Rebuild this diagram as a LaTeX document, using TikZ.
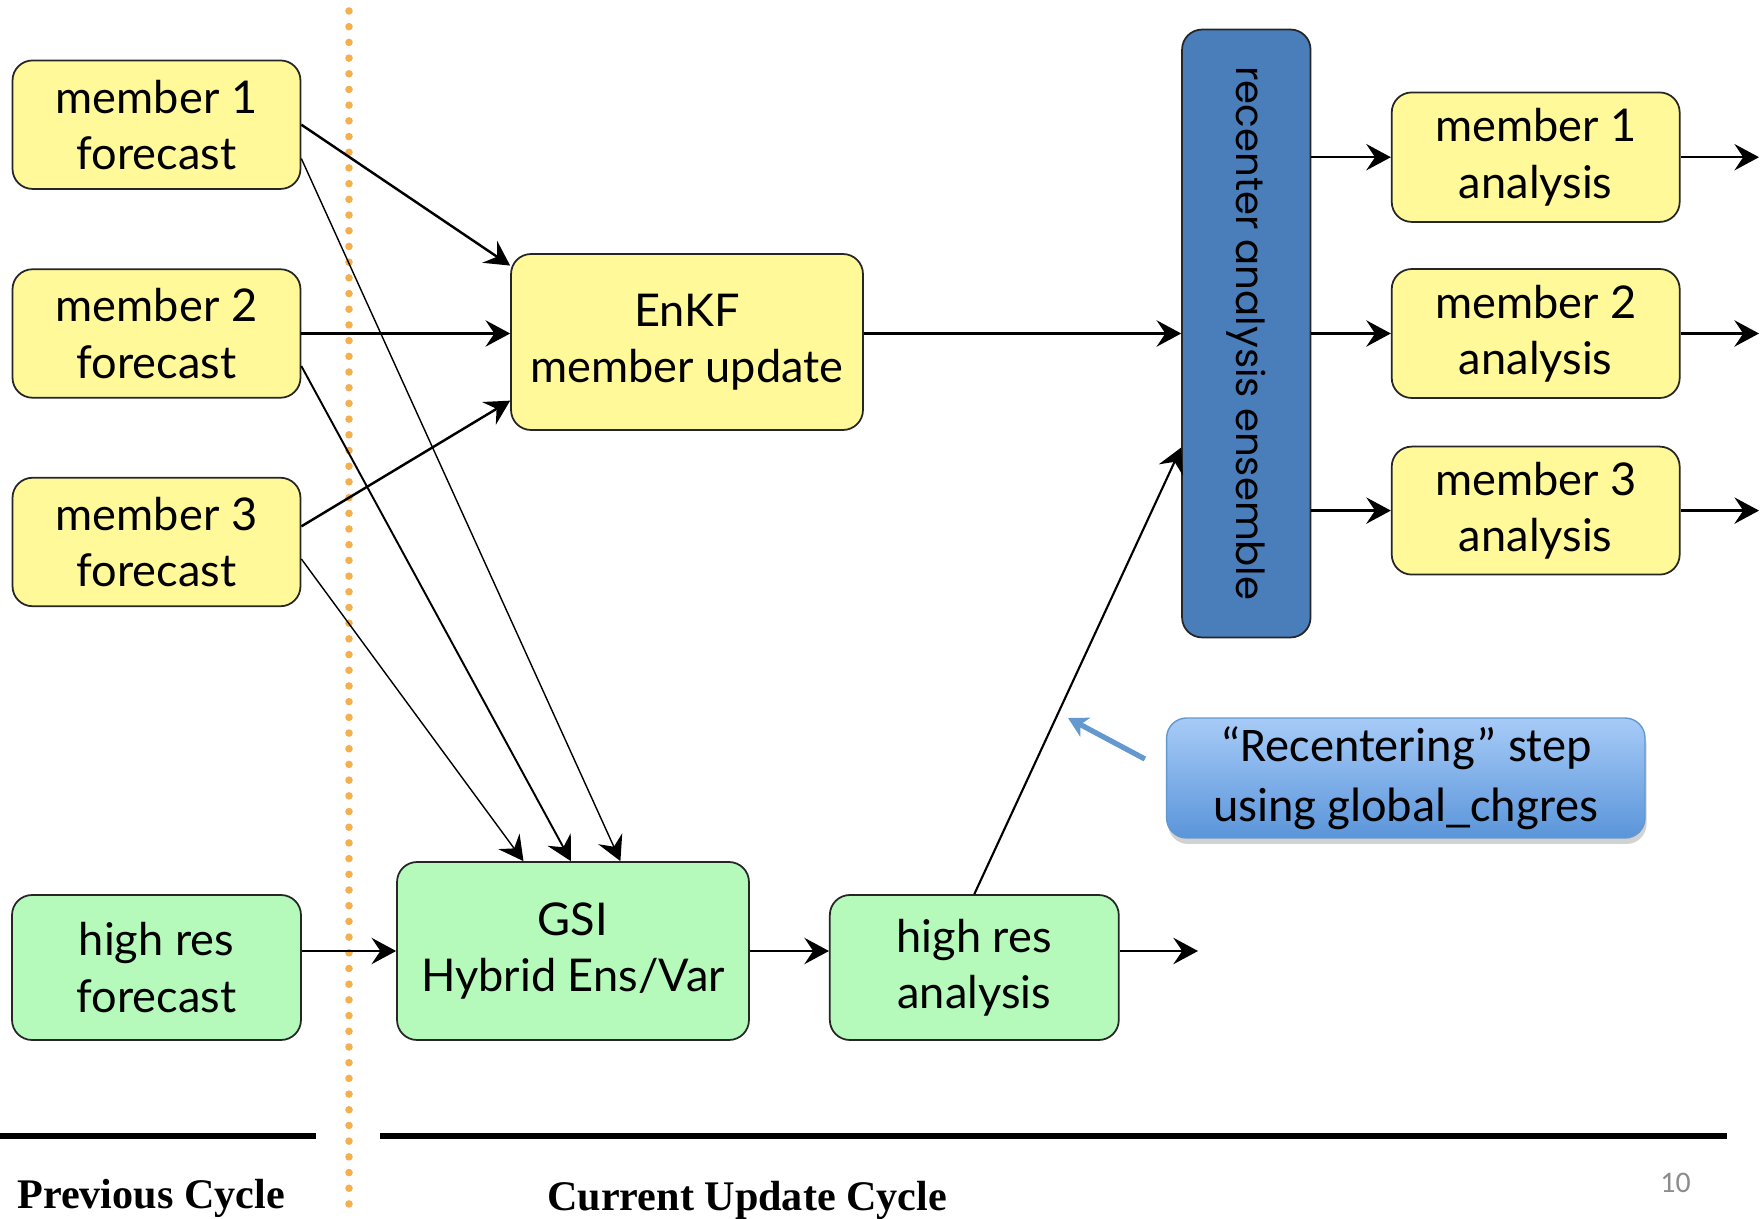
\documentclass[tikz,border=0pt]{standalone}
\usepackage{fontspec}
\setmainfont{Lato}
\newfontfamily\notefont{Carlito}
\newfontfamily\barfont{Poppins}
\newfontfamily\cyclefont{Liberation Serif}
\usetikzlibrary{arrows.meta,calc,shadows}
\definecolor{memberyellow}{HTML}{FFF99A}
\definecolor{hiresgreen}{HTML}{B5F9BB}
\definecolor{recenterblue}{HTML}{4A7EBB}
\definecolor{cycleorange}{HTML}{F4B04F}
\definecolor{notetop}{HTML}{A7CBF7}
\definecolor{notebottom}{HTML}{5A95DA}
\definecolor{noteline}{HTML}{6399CE}

\begin{document}
\begin{tikzpicture}[x=0.02cm, y=-0.02cm,
>={Stealth[length=14pt, width=15pt, inset=5pt]},
box/.style={draw=black!85, line width=1pt, rounded corners=0.4cm, align=center, inner sep=0pt, font=\fontsize{25.7}{32}\selectfont},
member/.style={box, fill=memberyellow, minimum width=5.76cm, minimum height=2.57cm},
hires/.style={box, fill=hiresgreen, minimum width=5.78cm, minimum height=2.9cm},
recenter/.style={box, fill=recenterblue, minimum width=2.57cm, minimum height=12.16cm, font=\barfont\fontsize{22}{26}\selectfont},
notebox/.style={draw=noteline, line width=0.8pt, rounded corners=0.4cm, top color=notetop, bottom color=notebottom, align=center, inner sep=0pt, minimum width=9.57cm, minimum height=2.4cm, font=\notefont\fontsize{27.5}{34}\selectfont, drop shadow={shadow xshift=0.03cm, shadow yshift=-0.12cm, opacity=0.25, fill=black!70}},
flow/.style={->, line width=1.4pt},
thinflow/.style={->, line width=0.8pt},
noteflow/.style={-{Stealth[length=11pt, width=12pt, inset=3pt]}, noteline, line width=3pt},
divider/.style={cycleorange, line width=4.3pt, line cap=round, dash pattern=on 0pt off 0.314cm},
cyclerule/.style={line width=3.8pt},
cyclelabel/.style={anchor=base west, inner sep=0, font=\cyclefont\bfseries\fontsize{24}{28}\selectfont},
]

\useasboundingbox (0,0) rectangle (1764,1219);
\fill[white] (0,0) rectangle (1764,1219);

%%%%%%%%%%%%%%%%%%%%%%%% CYCLES %%%%%%%%%%%%%%%%%%%%%%%%%%%
\draw[divider] (349,11) -- (349,1205);
\draw[cyclerule] (0,1136) -- (316,1136);
\draw[cyclerule] (380,1136) -- (1727,1136);
\node[cyclelabel] (prev) at (17,1208) {Previous Cycle};
\node[cyclelabel] (curr) at (547,1210) {Current Update Cycle};
\node[anchor=base west, inner sep=0, text=black!45, font=\notefont\fontsize{17}{20}\selectfont] (page) at (1660,1192) {10};

%%%%%%%%%%%%%%%%%%%%%%%% FORECASTS %%%%%%%%%%%%%%%%%%%%%%%%%%%
\node[member] (m1f) at (156.5,124.7) {member 1\\forecast};
\node[member] (m2f) at (156.5,333.5) {member 2\\forecast};
\node[member] (m3f) at (156.5,542) {member 3\\forecast};
\node[hires] (hrf) at (156.5,967.5) {high res\\forecast};

%%%%%%%%%%%%%%%%%%%%%%%% UPDATES %%%%%%%%%%%%%%%%%%%%%%%%%%%
\node[box, fill=memberyellow, minimum width=7.04cm, minimum height=3.52cm] (EnKF) at (687,342) {EnKF\\member update};
\node[box, fill=hiresgreen, minimum width=7.04cm, minimum height=3.56cm] (GSI) at (573,951) {GSI\\Hybrid Ens/Var};
\node[hires] (hra) at (974.3,967.5) {high res\\analysis};
\node[recenter] (bar) at (1246.3,333.5) {\rotatebox{-90}{recenter analysis ensemble}};

%%%%%%%%%%%%%%%%%%%%%%%% ANALYSES %%%%%%%%%%%%%%%%%%%%%%%%%%%
\node[member, minimum height=2.59cm] (m1a) at (1535.7,157.2) {member 1\\analysis};
\node[member, minimum height=2.58cm] (m2a) at (1535.7,333.5) {member 2\\analysis};
\node[member, minimum height=2.56cm] (m3a) at (1535.7,510.6) {member 3\\analysis};

\node[notebox] (note) at (1405.8,778) {“Recentering” step\\using global\_chgres};

%%%%%%%%%%%%%%%%%%%%%%%% ARROWS %%%%%%%%%%%%%%%%%%%%%%%%%%%
\coordinate (rightend) at (1759,0);
\coordinate (hiresend) at (1198,0);
\coordinate (notetip) at (1068,718);

\draw[flow] (m1f.east) -- ($(EnKF.north west)!0.07!(EnKF.south west)$);
\draw[flow] (m2f.east) -- (m2f.east -| EnKF.west);
\draw[flow] ($(m3f.north east)!0.38!(m3f.south east)$) -- ($(EnKF.north west)!0.83!(EnKF.south west)$);

\draw[thinflow] ($(m1f.north east)!0.76!(m1f.south east)$) -- ($(GSI.north west)!0.634!(GSI.north east)$);
\draw[thinflow, line width=1.1pt] ($(m2f.north east)!0.75!(m2f.south east)$) -- ($(GSI.north west)!0.494!(GSI.north east)$);
\draw[thinflow] ($(m3f.north east)!0.63!(m3f.south east)$) -- ($(GSI.north west)!0.36!(GSI.north east)$);

\draw[flow] (hrf.east |- GSI.west) -- (GSI.west);
\draw[flow] (GSI.east) -- (GSI.east -| hra.west);
\draw[flow] (hra.east |- GSI.east) -- (GSI.east -| hiresend);

\draw[flow] (EnKF.east |- bar.west) -- (bar.west);
\draw[flow, line width=1.2pt] (hra.north) -- ($(bar.north west)!0.687!(bar.south west)$);

\draw[flow] (bar.east |- m1a.west) -- (m1a.west);
\draw[flow] (bar.east |- m2a.west) -- (m2a.west);
\draw[flow] (bar.east |- m3a.west) -- (m3a.west);
\draw[flow] (m1a.east) -- (m1a.east -| rightend);
\draw[flow] (m2a.east) -- (m2a.east -| rightend);
\draw[flow] (m3a.east) -- (m3a.east -| rightend);

\draw[noteflow] ([xshift=-0.42cm, yshift=0.38cm]note.west) -- (notetip);
\end{tikzpicture}
\end{document}
